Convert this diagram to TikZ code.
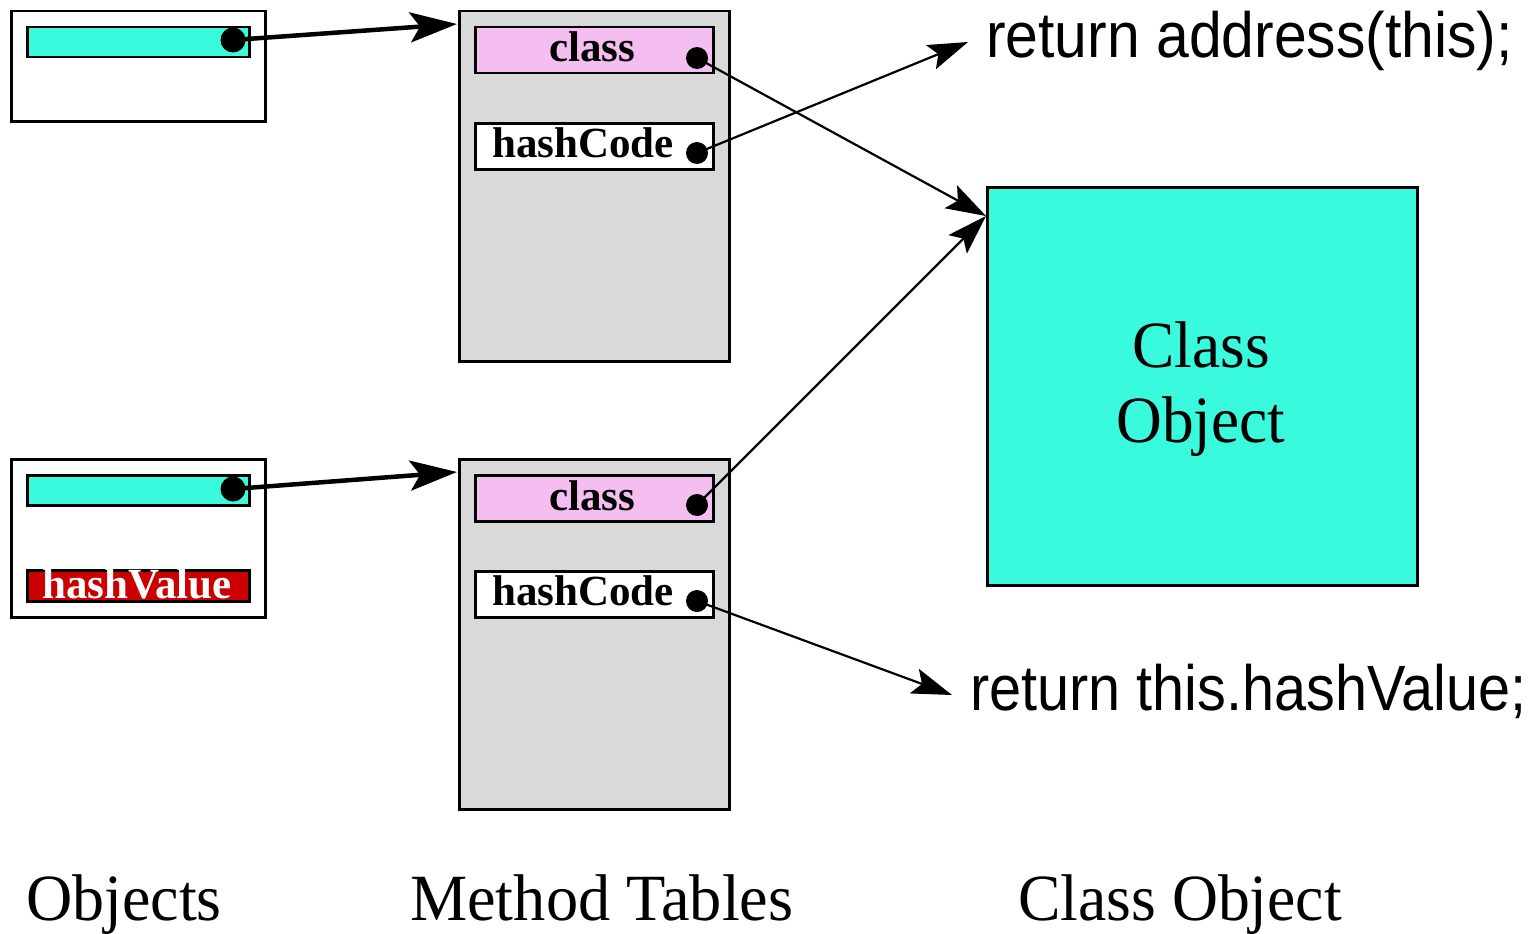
\documentclass[tikz,border=0pt]{standalone}
\usepackage{fontspec}
\setmainfont{Liberation Serif}
\newfontfamily\codefont{Liberation Sans}
\usetikzlibrary{arrows.meta}

\definecolor{slotcyan}{RGB}{58,250,222}
\definecolor{slotpink}{RGB}{245,190,240}
\definecolor{tablegray}{RGB}{217,217,217}
\definecolor{valuered}{RGB}{204,0,0}

\tikzset{
  box/.style={draw=black, line width=2.5pt, inner sep=0pt, anchor=north west},
  objbox/.style={box, fill=white},
  tablebox/.style={box, fill=tablegray},
  refslot/.style={box, fill=slotcyan},
  classslot/.style={box, fill=slotpink},
  codeslot/.style={box, fill=white},
  valueslot/.style={box, fill=valuered},
  bigdot/.style={circle, fill=black, draw=none, minimum size=25pt, inner sep=0pt},
  smalldot/.style={circle, fill=black, draw=none, minimum size=22pt, inner sep=0pt},
  slottext/.style={anchor=base, inner sep=0pt, font=\fontsize{43}{43}\selectfont\bfseries},
  captext/.style={anchor=base west, inner sep=0pt, font=\fontsize{66}{66}\selectfont},
  codetext/.style={anchor=base west, inner sep=0pt, font=\fontsize{64}{64}\selectfont\codefont},
  thickptr/.style={line width=4.5pt, -{Stealth[length=47pt, width=30pt, inset=10pt]}},
  thinptr/.style={line width=2.2pt, -{Stealth[length=40pt, width=26pt, inset=8pt]}},
}

\begin{document}
\begin{tikzpicture}[x=1pt, y=-1pt]
\useasboundingbox (0,0) rectangle (1539,934);

% objects
\node[objbox, minimum width=254pt, minimum height=110pt] (obj1) at (10,10) {};
\node[refslot, minimum width=222pt, minimum height=30pt] (ref1) at (26,26) {};
\node[bigdot] (rdot1) at (233,40) {};

\node[objbox, minimum width=254pt, minimum height=158pt] (obj2) at (10,458) {};
\node[refslot, minimum width=222pt, minimum height=30pt] (ref2) at (26,474) {};
\node[bigdot] (rdot2) at (233,489) {};
\node[valueslot, minimum width=222pt, minimum height=31pt] (hv) at (26,569) {};
\node[slottext, text=white] (hvtext) at (137,598) {hashValue};

% method tables
\node[tablebox, minimum width=270pt, minimum height=350pt] (mt1) at (458,10) {};
\node[classslot, minimum width=238pt, minimum height=46pt] (cls1) at (474,26) {};
\node[slottext] (cls1text) at (592,62) {class};
\node[smalldot] (cdot1) at (697,58) {};
\node[codeslot, minimum width=238pt, minimum height=46pt] (hc1) at (474,122) {};
\node[slottext, anchor=base west] (hc1text) at (492,157) {hashCode};
\node[smalldot] (hdot1) at (697,153) {};

\node[tablebox, minimum width=270pt, minimum height=350pt] (mt2) at (458,458) {};
\node[classslot, minimum width=238pt, minimum height=46pt] (cls2) at (474,474) {};
\node[slottext] (cls2text) at (592,510) {class};
\node[smalldot] (cdot2) at (697,505) {};
\node[codeslot, minimum width=238pt, minimum height=46pt] (hc2) at (474,570) {};
\node[slottext, anchor=base west] (hc2text) at (492,605) {hashCode};
\node[smalldot] (hdot2) at (697,601) {};

% class object
\node[box, fill=slotcyan, minimum width=430pt, minimum height=398pt] (co) at (986,186) {};
\node[anchor=base, inner sep=0pt, font=\fontsize{66}{66}\selectfont] (cotext1) at (1201,367) {\scalebox{0.96}[1]{Class}};
\node[anchor=base, inner sep=0pt, font=\fontsize{66}{66}\selectfont] (cotext2) at (1201,442) {\scalebox{0.96}[1]{Object}};

% method bodies
\node[codetext] (code1) at (986,58) {\scalebox{0.92}[1]{return address(this);}};
\node[codetext] (code2) at (970,710) {\scalebox{0.90}[1]{return this.hashValue;}};

% column captions
\node[captext] (cap1) at (26,920) {\scalebox{0.97}[1]{Objects}};
\node[captext] (cap2) at (410,920) {\scalebox{0.975}[1]{Method Tables}};
\node[captext] (cap3) at (1018,920) {\scalebox{0.965}[1]{Class Object}};

% arrow ends
\coordinate (mt1in) at (457,24);
\coordinate (mt2in) at (457,472);
\coordinate (coin) at (986,216);
\coordinate (code1in) at (968,42);
\coordinate (code2in) at (952,695);

% pointers
\draw[thickptr] (rdot1.center) -- (mt1in);
\draw[thickptr] (rdot2.center) -- (mt2in);
\draw[thinptr] (cdot1.center) -- (coin);
\draw[thinptr] (hdot1.center) -- (code1in);
\draw[thinptr] (cdot2.center) -- (coin);
\draw[thinptr] (hdot2.center) -- (code2in);
\end{tikzpicture}
\end{document}
